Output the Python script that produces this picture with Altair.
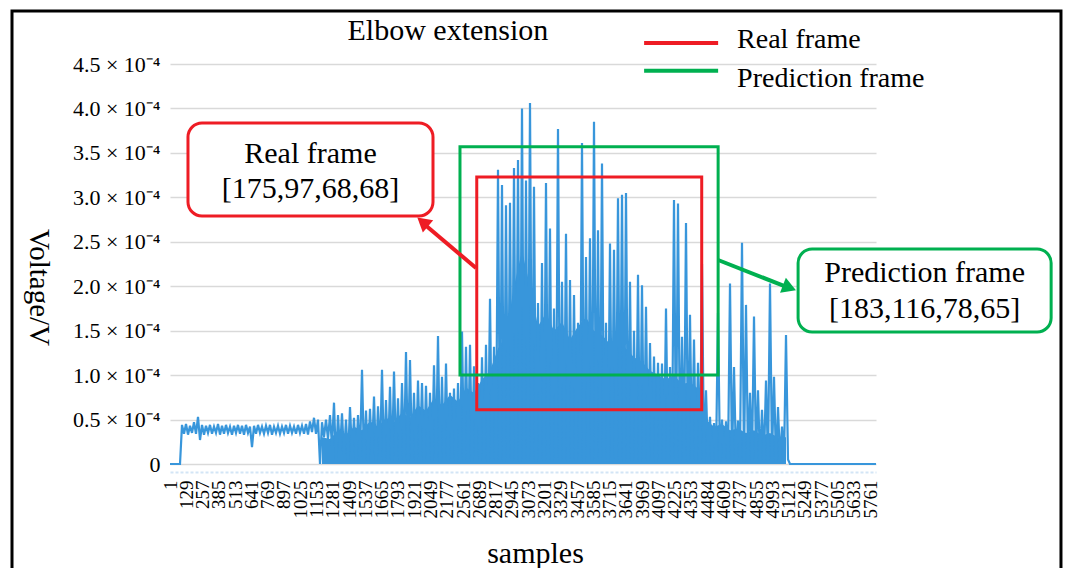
import altair as alt
import pandas as pd

FONT = "Liberation Serif"
BLUE = "#3896db"
RED = "#ee1c24"
GREEN = "#00b050"

# ---------------- data (voltage in units of 1e-4 V) ----------------
title_text = "Elbow extension"
x_labels = ["1", "129", "257", "385", "513", "641", "769", "897", "1025", "1153",
            "1281", "1409", "1537", "1665", "1793", "1921", "2049", "2177", "2561",
            "2689", "2817", "2945", "3073", "3201", "3329", "3457", "3585", "3715",
            "3641", "3969", "4097", "4225", "4353", "4484", "4609", "4737", "4855",
            "4993", "5121", "5249", "5377", "5505", "5633", "5761"]
y_ticks = [0, 0.5, 1.0, 1.5, 2.0, 2.5, 3.0, 3.5, 4.0, 4.5]

# local maxima / minima of the dense signal, read column by column
peaks = [0, 0, 0,
         0.44, 0.45, 0.43, 0.47, 0.53, 0.44, 0.43, 0.44, 0.42, 0.45, 0.43, 0.44,
         0.42, 0.43, 0.44, 0.43, 0.44, 0.42, 0.43, 0.44, 0.42, 0.43, 0.44, 0.42,
         0.43, 0.42, 0.44, 0.43, 0.42, 0.44, 0.43, 0.45, 0.48, 0.52,
         0.50, 0.47, 0.50, 0.55, 0.69, 0.55, 0.57, 0.50, 0.64, 0.52, 0.55, 1.06,
         0.60, 0.62, 0.76, 0.65, 1.06, 0.72, 0.87, 1.04, 0.74, 0.91, 1.26, 1.17,
         0.80, 0.94, 0.91, 0.88, 0.80, 1.11, 1.44, 0.98, 1.13, 0.80, 0.85, 0.91,
         1.49, 1.32, 1.34, 1.10, 0.91, 1.20, 1.34, 1.86, 1.32, 3.31, 3.14, 2.91,
         2.94, 3.33, 3.42, 4.00, 3.19, 4.06, 3.12, 1.81, 2.26, 3.16, 2.65, 1.75,
         3.77, 2.05, 2.59, 2.07, 1.90, 1.59, 3.61, 2.33, 2.54, 3.85, 2.63, 3.38,
         1.59, 2.48, 2.41, 2.99, 3.03, 3.05, 2.05, 1.50, 2.13, 2.01, 1.77, 1.36,
         1.21, 1.14, 1.13, 1.75, 1.09, 2.97, 2.93, 1.43, 2.71, 1.68, 1.40, 1.14,
         2.25, 0.83, 0.53, 0.46, 1.70, 0.50, 0.48, 2.03, 1.09, 0.49, 2.49, 1.79,
         0.80, 1.66, 0.83, 0.61, 0.94, 2.03, 0.98, 0.64, 0.42, 1.45,
         0, 0, 0, 0, 0, 0, 0, 0, 0, 0, 0, 0, 0, 0, 0, 0, 0, 0, 0, 0, 0, 0]
troughs = [0, 0, 0,
           0.34, 0.33, 0.35, 0.34, 0.27, 0.33, 0.35, 0.34, 0.35, 0.33, 0.34, 0.35,
           0.33, 0.35, 0.34, 0.33, 0.35, 0.19, 0.34, 0.35, 0.34, 0.35, 0.33, 0.35,
           0.34, 0.35, 0.34, 0.35, 0.34, 0.35, 0.34, 0.33, 0.36, 0.34,
           0.00, 0.30, 0.28, 0.20, 0.02, 0.15, 0.10, 0.05, 0.12, 0.03, 0.08, 0.05,
           0.02, 0.10, 0.04, 0.08, 0.02, 0.06, 0.03, 0.08, 0.02, 0.05, 0.02, 0.06,
           0.03, 0.08, 0.02, 0.05, 0.03, 0.07, 0.02, 0.05, 0.03, 0.06, 0.02, 0.05,
           0.03, 0.06, 0.02, 0.08, 0.03, 0.05, 0.02, 0.06, 0.03, 0.05, 0.02, 0.07,
           0.03, 0.05, 0.02, 0.06, 0.03, 0.05, 0.02, 0.06, 0.03, 0.05, 0.02, 0.07,
           0.03, 0.05, 0.02, 0.06, 0.03, 0.05, 0.02, 0.07, 0.02, 0.06, 0.03, 0.05,
           0.02, 0.06, 0.03, 0.05, 0.02, 0.06, 0.03, 0.05, 0.02, 0.06, 0.03, 0.05,
           0.02, 0.06, 0.03, 0.05, 0.02, 0.06, 0.03, 0.05, 0.02, 0.06, 0.03, 0.05,
           0.02, 0.08, 0.02, 0.05, 0.03, 0.06, 0.02, 0.05, 0.03, 0.06, 0.02, 0.05,
           0.03, 0.06, 0.02, 0.05, 0.03, 0.06, 0.02, 0.05, 0.03, 0.05,
           0, 0, 0, 0, 0, 0, 0, 0, 0, 0, 0, 0, 0, 0, 0, 0, 0, 0, 0, 0, 0, 0]

# level of the densely filled core of the signal, every second column from column 38 to 154
body_first_col = 38
body = [0.30, 0.28, 0.38, 0.33, 0.42, 0.38, 0.48, 0.42, 0.52, 0.47,
        0.58, 0.52, 0.66, 0.60, 0.74, 0.66, 0.78, 0.70, 0.86, 0.80,
        0.95, 1.05, 1.30, 1.45, 2.00, 2.40, 2.00, 1.55, 1.70, 1.50,
        1.60, 1.40, 1.55, 1.65, 1.50, 1.45, 1.35, 1.45, 1.30, 1.20,
        1.15, 1.05, 1.00, 0.95, 1.00, 0.90, 0.92, 0.85, 0.50, 0.42,
        0.45, 0.38, 0.40, 0.35, 0.38, 0.32, 0.35, 0.30, 0.30]

X_MIN, X_MAX = 1, 5810          # sample range shown on the x axis
N_SAMPLES_LABELLED = 5760

# bounding frames (samples / 1e-4 V)
frame_names = ["Real frame", "Prediction frame"]
frame_colors = [RED, GREEN]
frame_x0 = [2525, 2387]
frame_x1 = [4376, 4511]
frame_y0 = [0.61, 1.00]
frame_y1 = [3.23, 3.57]

# callout boxes
callout_line1 = ["Real frame", "Prediction frame"]
callout_line2 = ["[175,97,68,68]", "[183,116,78,65]"]
callout_x0 = [149, 5169]
callout_x1 = [2165, 7251]
callout_y0 = [2.79, 1.485]
callout_y1 = [3.836, 2.419]
callout_tx = [1157, 6210]
callout_ty1 = [3.487, 2.149]
callout_ty2 = [3.094, 1.744]
arrow_x0 = [2519, 4511]
arrow_y0 = [2.205, 2.295]
arrow_x1 = [2091, 5078]
arrow_y1 = [2.70, 1.99]
head_x = [2080, 5098]
head_y = [2.724, 1.982]
head_angle = [310, 111]

# legend entries
legend_x0 = [3902, 3902]
legend_x1 = [4511, 4511]
legend_line_y = [4.736, 4.425]
legend_text_x = [4667, 4667]
legend_text_y = [4.773, 4.328]

# title position and outer frame of the figure
title_x = [2288]
title_y = [4.87]
border_x = [-1299, 7332]
border_y = [-1.5, 5.096]

# ---------------- tables ----------------
step = (X_MAX - X_MIN) / (2 * len(peaks) - 1)
sig_rows = []
for i, (p, t) in enumerate(zip(peaks, troughs)):
    sig_rows.append({"sample": X_MIN + 2 * i * step, "v": p})
    sig_rows.append({"sample": X_MIN + (2 * i + 1) * step, "v": t})
sig = pd.DataFrame(sig_rows)
body_df = pd.DataFrame({
    "sample": [X_MIN + 2 * (body_first_col + 2 * j) * step for j in range(len(body))],
    "v": body})

frames = pd.DataFrame({"name": frame_names, "color": frame_colors,
                       "x0": frame_x0, "x1": frame_x1, "y0": frame_y0, "y1": frame_y1})
callouts = pd.DataFrame({"color": frame_colors, "x0": callout_x0, "x1": callout_x1,
                         "y0": callout_y0, "y1": callout_y1})
callout_text = pd.DataFrame({
    "t": callout_line1 + callout_line2,
    "x": callout_tx + callout_tx,
    "y": callout_ty1 + callout_ty2})
arrows = pd.DataFrame({"color": frame_colors, "x0": arrow_x0, "y0": arrow_y0,
                       "x1": arrow_x1, "y1": arrow_y1})
heads = pd.DataFrame({"color": frame_colors, "x": head_x, "y": head_y, "angle": head_angle})
legend_df = pd.DataFrame({"name": frame_names, "color": frame_colors,
                          "x0": legend_x0, "x1": legend_x1, "y": legend_line_y,
                          "tx": legend_text_x, "ty": legend_text_y})
title_df = pd.DataFrame({"t": [title_text], "x": title_x, "y": title_y})
border = pd.DataFrame({"x0": [border_x[0]], "x1": [border_x[1]],
                       "y0": [border_y[0]], "y1": [border_y[1]]})

# ---------------- scales / axes ----------------
tick_vals = [X_MIN + k * N_SAMPLES_LABELLED / (len(x_labels) - 1) for k in range(len(x_labels))]
label_arr = "[" + ",".join("'%s'" % l for l in x_labels) + "]"
x_label_expr = label_arr + "[round((datum.value - 1) * %d / %d)]" % (len(x_labels) - 1, N_SAMPLES_LABELLED)

xscale = alt.Scale(domain=[X_MIN, X_MAX], nice=False, zero=False)
yscale = alt.Scale(domain=[0, 4.5], nice=False, zero=False)

x_axis = alt.Axis(values=tick_vals, labelExpr=x_label_expr, labelAngle=-90,
                  labelOverlap=False, labelFont=FONT, labelFontSize=19, labelColor="black",
                  labelPadding=8, ticks=False, grid=False, domain=True,
                  domainColor="#d3e5f6", domainDash=[3, 2], domainWidth=2, offset=8,
                  title="samples", titleFont=FONT, titleFontSize=30, titleFontWeight="normal",
                  titleColor="black", titleX=365, titleY=90, titleAlign="center",
                  titleBaseline="alphabetic")
y_axis = alt.Axis(values=y_ticks,
                  labelExpr="datum.value == 0 ? '0' : format(datum.value, '.1f') + ' \u00d7 10\u207b\u2074'",
                  labelFont=FONT, labelFontSize=22, labelColor="black", labelPadding=10,
                  ticks=False, domain=False, grid=True, gridColor="#d9d9d9", gridWidth=1.5,
                  title="Voltage/V", titleFont=FONT, titleFontSize=29, titleFontWeight="normal",
                  titleColor="black", titleAngle=90, titleX=-132, titleY=223,
                  titleAlign="center", titleBaseline="middle")


def X(field):
    return alt.X(field, type="quantitative", scale=xscale, axis=x_axis)


def Y(field):
    return alt.Y(field, type="quantitative", scale=yscale, axis=y_axis)


body_layer = alt.Chart(body_df).mark_area(color=BLUE, opacity=1).encode(
    x=X("sample"), y=Y("v"))

line = alt.Chart(sig).mark_line(color=BLUE, strokeWidth=2.2).encode(
    x=X("sample"), y=Y("v"), order="sample:Q")

frame_layer = alt.Chart(frames).mark_rect(filled=False, strokeWidth=3).encode(
    x=X("x0"), x2="x1", y=Y("y0"), y2="y1",
    stroke=alt.Stroke("color:N", scale=None))

arrow_layer = alt.Chart(arrows).mark_rule(strokeWidth=4).encode(
    x=X("x0"), x2="x1", y=Y("y0"), y2="y1",
    stroke=alt.Stroke("color:N", scale=None))

head_layer = alt.Chart(heads).mark_point(shape="triangle-up", filled=True, size=260, opacity=1).encode(
    x=X("x"), y=Y("y"),
    angle=alt.Angle("angle:Q", scale=None),
    color=alt.Color("color:N", scale=None))

callout_layer = alt.Chart(callouts).mark_rect(fill="white", strokeWidth=3, cornerRadius=14).encode(
    x=X("x0"), x2="x1", y=Y("y0"), y2="y1",
    stroke=alt.Stroke("color:N", scale=None))

callout_text_layer = alt.Chart(callout_text).mark_text(
    font=FONT, fontSize=30, color="black", align="center", baseline="middle").encode(
    x=X("x"), y=Y("y"), text="t:N")

legend_lines = alt.Chart(legend_df).mark_rule(strokeWidth=4).encode(
    x=X("x0"), x2="x1", y=Y("y"),
    stroke=alt.Stroke("color:N", scale=None))

legend_text = alt.Chart(legend_df).mark_text(
    font=FONT, fontSize=28, color="black", align="left", baseline="middle").encode(
    x=X("tx"), y=Y("ty"), text="name:N")

title_layer = alt.Chart(title_df).mark_text(
    font=FONT, fontSize=30, color="black", align="center", baseline="middle").encode(
    x=X("x"), y=Y("y"), text="t:N")

border_layer = alt.Chart(border).mark_rect(filled=False, stroke="black", strokeWidth=3).encode(
    x=X("x0"), x2="x1", y=Y("y0"), y2="y1")

chart = alt.layer(
    body_layer, line, frame_layer, arrow_layer, head_layer, callout_layer, callout_text_layer,
    legend_lines, legend_text, title_layer, border_layer
).properties(
    width=706, height=400,
    autosize=alt.AutoSizeParams(type="none"),
    padding={"left": 162, "top": 56, "right": 188, "bottom": 104},
    background="white",
).configure_view(stroke=None)

chart.save("out.html", embed_options={"renderer": "svg", "actions": False})
